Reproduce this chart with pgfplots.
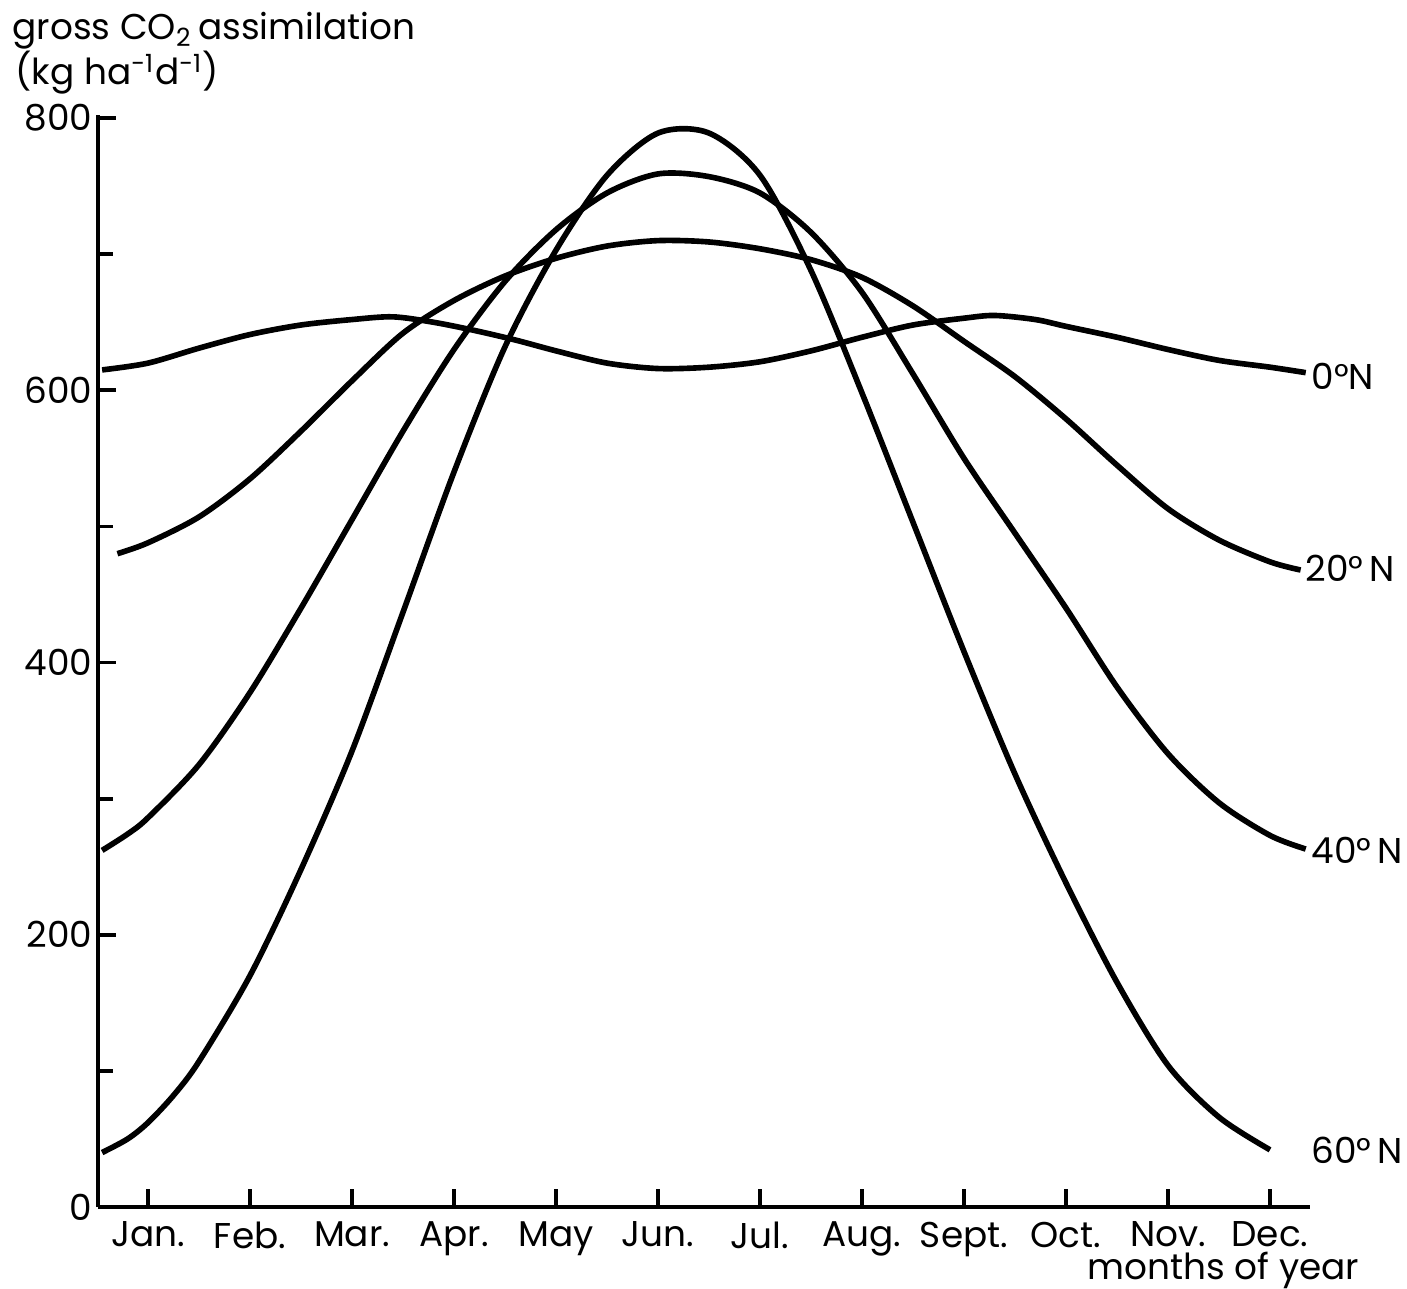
\documentclass[border=0pt]{standalone}
\usepackage{pgfplots}
\pgfplotsset{compat=1.18}
\usepackage{fontspec}
\setmainfont{Poppins}
\begin{document}
\fontsize{10.2}{12}\selectfont
\begin{tikzpicture}
\useasboundingbox (-0.98,-0.81) rectangle (13.09,12.07);
\begin{axis}[
  scale only axis,
  width=12.12cm, height=10.916cm,
  xmin=0.5098, xmax=12.392,
  ymin=0, ymax=802,
  axis x line=bottom, axis y line=left,
  axis line style={-, line width=1.1pt},
  xtick={1,...,12},
  xticklabels={Jan.,Feb.,Mar.,Apr.,May,Jun.,Jul.,Aug.,Sept.,Oct.,Nov.,Dec.},
  ytick={0,200,400,600,800},
  minor ytick={100,300,500,700},
  tick align=inside,
  major tick length=0.18cm, minor tick length=0.15cm,
  tick style={line width=1.1pt, black},
  /pgf/number format/assume math mode=true,
  yticklabel style={xshift=2pt},
  xticklabel style={inner sep=1pt, yshift=-3pt},
  clip=false,
]
% 0 N
\addplot[black, line width=1.6pt, smooth] coordinates {
 (0.55,615) (1,620) (1.5,631) (2,641) (2.5,648) (3,652) (3.4,654) (3.8,650)
 (4.2,644) (4.6,637) (5,629) (5.5,620) (6,616) (6.5,617) (7,621) (7.5,629)
 (8,639) (8.5,648) (9,653) (9.3,655) (9.7,652) (10,647) (10.5,639) (11,630)
 (11.5,622) (12,617) (12.35,613)};
% 20 N
\addplot[black, line width=1.6pt, smooth] coordinates {
 (0.7,480) (1,488) (1.5,507) (2,535) (2.5,570) (3,607) (3.5,642) (4,666)
 (4.5,684) (5,697) (5.5,706) (6,710) (6.5,709) (7,704) (7.5,696) (8,683)
 (8.5,662) (9,636) (9.5,610) (10,579) (10.5,545) (11,513) (11.5,490)
 (12,474) (12.3,468)};
% 40 N
\addplot[black, line width=1.6pt, smooth] coordinates {
 (0.55,262) (0.8,274) (1,286) (1.5,325) (2,378) (2.5,440) (3,505) (3.5,570) (4,630)
 (4.5,680) (5,718) (5.5,745) (6,759) (6.5,757) (7,745) (7.5,716) (8,672)
 (8.5,612) (9,550) (9.5,495) (10,440) (10.5,382) (11,333) (11.5,297)
 (12,273) (12.35,263)};
% 60 N
\addplot[black, line width=1.6pt, smooth] coordinates {
 (0.55,40) (0.8,50) (1,62) (1.25,82) (1.5,107) (2,170) (2.5,248) (3,335)
 (3.5,437) (4,540) (4.5,632) (5,703) (5.5,758) (6,789) (6.5,789) (7,758)
 (7.5,688) (8,598) (8.5,503) (9,408) (9.5,318) (10,238) (10.5,165)
 (11,104) (11.5,66) (12,42)};
\node[anchor=west, inner sep=0pt] at (axis cs:12.4,610) {0°N};
\node[anchor=west, inner sep=0pt] at (axis cs:12.34,469) {20°\,N};
\node[anchor=west, inner sep=0pt] at (axis cs:12.4,262) {40°\,N};
\node[anchor=west, inner sep=0pt] at (axis cs:12.4,42) {60°\,N};
\end{axis}
\node[anchor=base west, inner sep=0pt] at (-0.86,11.67) {gross CO\textsubscript{2}\,assimilation};
\node[anchor=base west, inner sep=0pt] at (-0.83,11.22) {(kg ha\textsuperscript{-1}d\textsuperscript{-1})};
\node[anchor=base east, inner sep=0pt] at (12.62,-0.72) {months of year};
\end{tikzpicture}
\end{document}
